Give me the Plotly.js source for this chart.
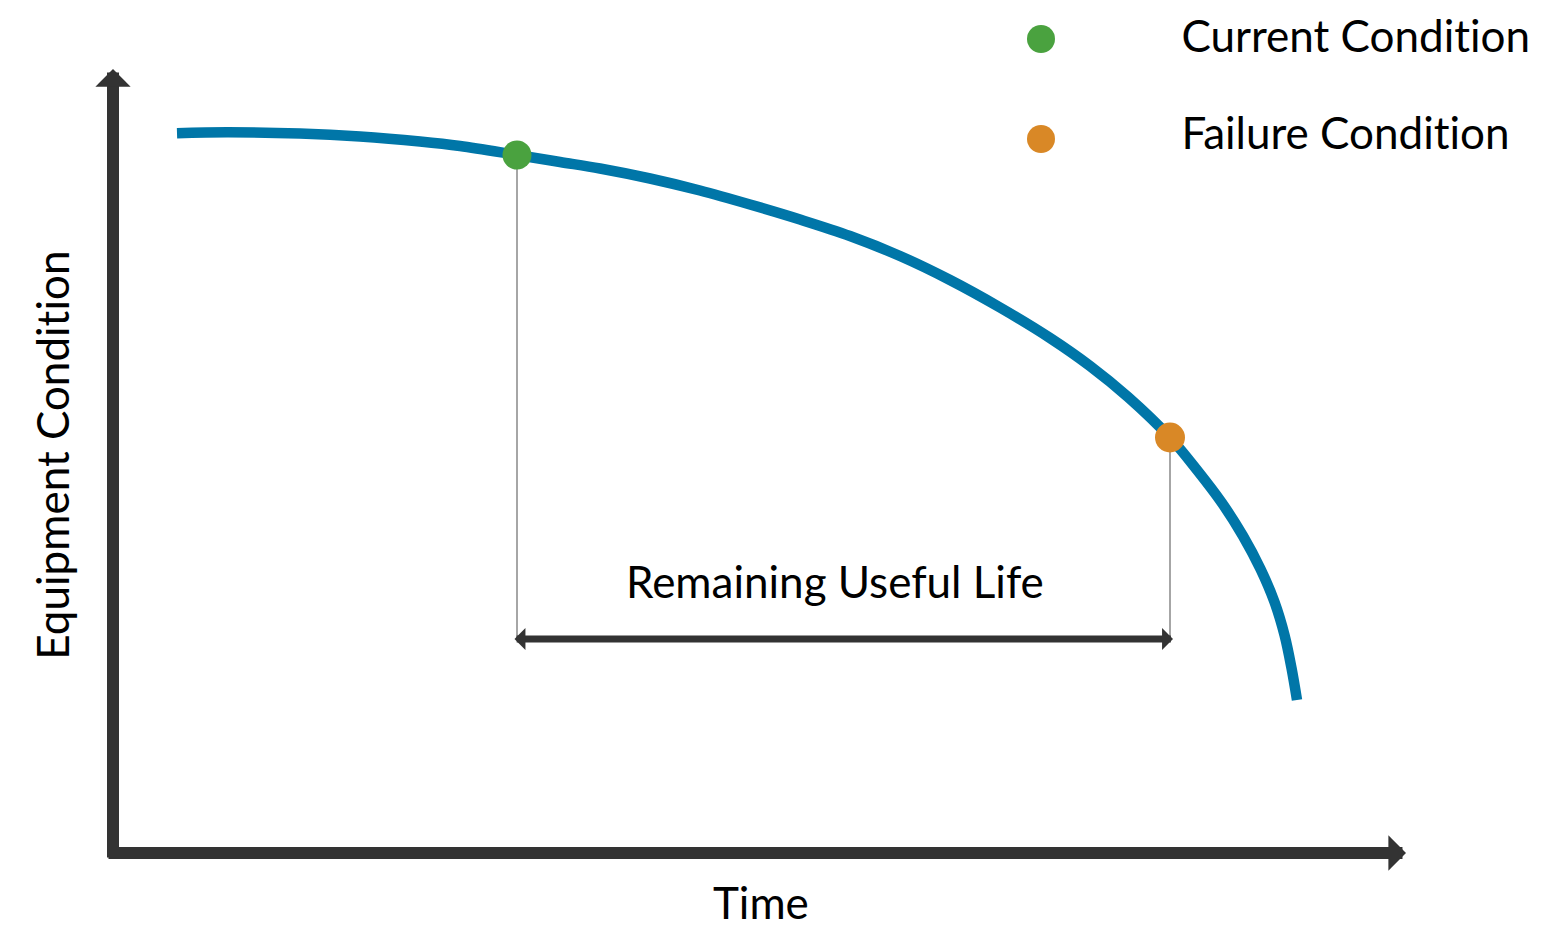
<!DOCTYPE html>
<html>
<head>
<meta charset="utf-8">
<script src="https://cdn.plot.ly/plotly-3.0.1.min.js"></script>
<style>
  html, body { margin: 0; padding: 0; background: #ffffff; }
  #chart { width: 1568px; height: 930px; }
  #chart text { font-variant-ligatures: none; font-feature-settings: "liga" 0, "clig" 0; }
</style>
</head>
<body>
<div id="chart"></div>
<script>
// ---- Degradation curve (time units vs. condition units) ----
const timeVals      = [0.64, 1.14, 1.87, 2.47, 3.07, 3.47, 4.04, 4.47, 4.87, 5.37, 5.87, 6.37, 6.87, 7.37, 7.87, 8.37, 8.87, 9.37, 9.77, 10.15, 10.57, 10.84, 11.09, 11.30, 11.475, 11.615, 11.715, 11.785, 11.84];
const conditionVals = [7.198, 7.208, 7.195, 7.165, 7.115, 7.07, 6.98, 6.91, 6.845, 6.745, 6.625, 6.485, 6.335, 6.17, 5.97, 5.73, 5.455, 5.15, 4.87, 4.56, 4.155, 3.83, 3.50, 3.17, 2.84, 2.51, 2.18, 1.85, 1.53];

// ---- Marked events ----
const eventNames     = ['Current Condition', 'Failure Condition'];
const eventTime      = [4.04, 10.57];
const eventCondition = [6.98, 4.155];
const eventColors    = ['#4AA23F', '#D98826'];

// ---- Axis extents and labels ----
const timeAxisMax      = 12.93;
const conditionAxisMax = 7.84;
const rulLevel         = 2.14;
const xLabel   = 'Time';
const yLabel   = 'Equipment Condition';
const rulLabel = 'Remaining Useful Life';

// ---- Legend placement (data units) ----
const legendMarkerX = 9.28;
const legendTextX   = 10.66;
const legendMarkerY = [8.14, 7.14];
const legendTextY   = [8.18, 7.215];

const FONT = 'Lato, "Open Sans", sans-serif';
const DARK = '#333333';

const traces = [];

// drop lines from events down to the RUL arrow
eventTime.forEach((t, i) => {
  traces.push({
    type: 'scatter', mode: 'lines',
    x: [t, t], y: [eventCondition[i], rulLevel],
    line: { color: '#888888', width: 1.5 },
    hoverinfo: 'skip', showlegend: false
  });
});

// degradation curve
traces.push({
  type: 'scatter', mode: 'lines',
  x: timeVals, y: conditionVals,
  line: { color: '#0076A8', width: 10.5, shape: 'spline', smoothing: 1 },
  hoverinfo: 'skip', showlegend: false
});

// event markers
traces.push({
  type: 'scatter', mode: 'markers',
  x: eventTime, y: eventCondition,
  marker: { color: eventColors, size: [29, 30], opacity: 1, line: { width: 0 } },
  text: eventNames, hoverinfo: 'text', showlegend: false
});

// custom legend markers
traces.push({
  type: 'scatter', mode: 'markers',
  x: eventNames.map(() => legendMarkerX), y: legendMarkerY,
  marker: { color: eventColors, size: 28, opacity: 1, line: { width: 0 } },
  hoverinfo: 'skip', showlegend: false
});

const txt = () => ({ family: FONT, size: 44, color: '#000000' });

const annotations = [
  // time axis arrow
  { x: timeAxisMax, y: 0, ax: -0.06, ay: 0, xref: 'x', yref: 'y', axref: 'x', ayref: 'y',
    text: '', font: { size: 1 }, showarrow: true, arrowhead: 1, arrowsize: 0.49, arrowwidth: 12, arrowcolor: DARK },
  // condition axis arrow
  { x: 0, y: conditionAxisMax, ax: 0, ay: -0.06, xref: 'x', yref: 'y', axref: 'x', ayref: 'y',
    text: '', font: { size: 1 }, showarrow: true, arrowhead: 1, arrowsize: 0.49, arrowwidth: 12, arrowcolor: DARK },
  // remaining useful life double arrow
  { x: eventTime[1] + 0.03, y: rulLevel, ax: eventTime[0] - 0.04, ay: rulLevel,
    xref: 'x', yref: 'y', axref: 'x', ayref: 'y',
    text: '', font: { size: 1 }, showarrow: true, arrowside: 'end+start',
    arrowhead: 1, startarrowhead: 1, arrowsize: 0.52, startarrowsize: 0.52, arrowwidth: 7, arrowcolor: DARK },
  // labels
  { x: 7.22, y: 2.725, xref: 'x', yref: 'y', text: rulLabel, showarrow: false, font: txt(), xanchor: 'center', yanchor: 'middle' },
  { x: 6.48, y: -0.77, xref: 'x', yref: 'y', text: xLabel, showarrow: false, font: txt(), xanchor: 'center', yanchor: 'bottom' },
  { x: -0.615, y: 3.975, xref: 'x', yref: 'y', text: yLabel, showarrow: false, font: txt(), textangle: -90, xanchor: 'center', yanchor: 'middle' }
];

eventNames.forEach((name, i) => {
  annotations.push({ x: legendTextX, y: legendTextY[i], xref: 'x', yref: 'y', text: name, showarrow: false,
    font: txt(), xanchor: 'left', yanchor: 'middle' });
});

const layout = {
  width: 1568, height: 930,
  margin: { l: 0, r: 0, t: 0, b: 0, pad: 0 },
  paper_bgcolor: '#ffffff', plot_bgcolor: '#ffffff',
  showlegend: false,
  xaxis: { range: [-1.13, 14.55], visible: false, fixedrange: true },
  yaxis: { range: [-0.77, 8.53], visible: false, fixedrange: true },
  annotations: annotations,
  font: { family: FONT }
};

Plotly.newPlot('chart', traces, layout, { displayModeBar: false, staticPlot: true });
</script>
</body>
</html>
